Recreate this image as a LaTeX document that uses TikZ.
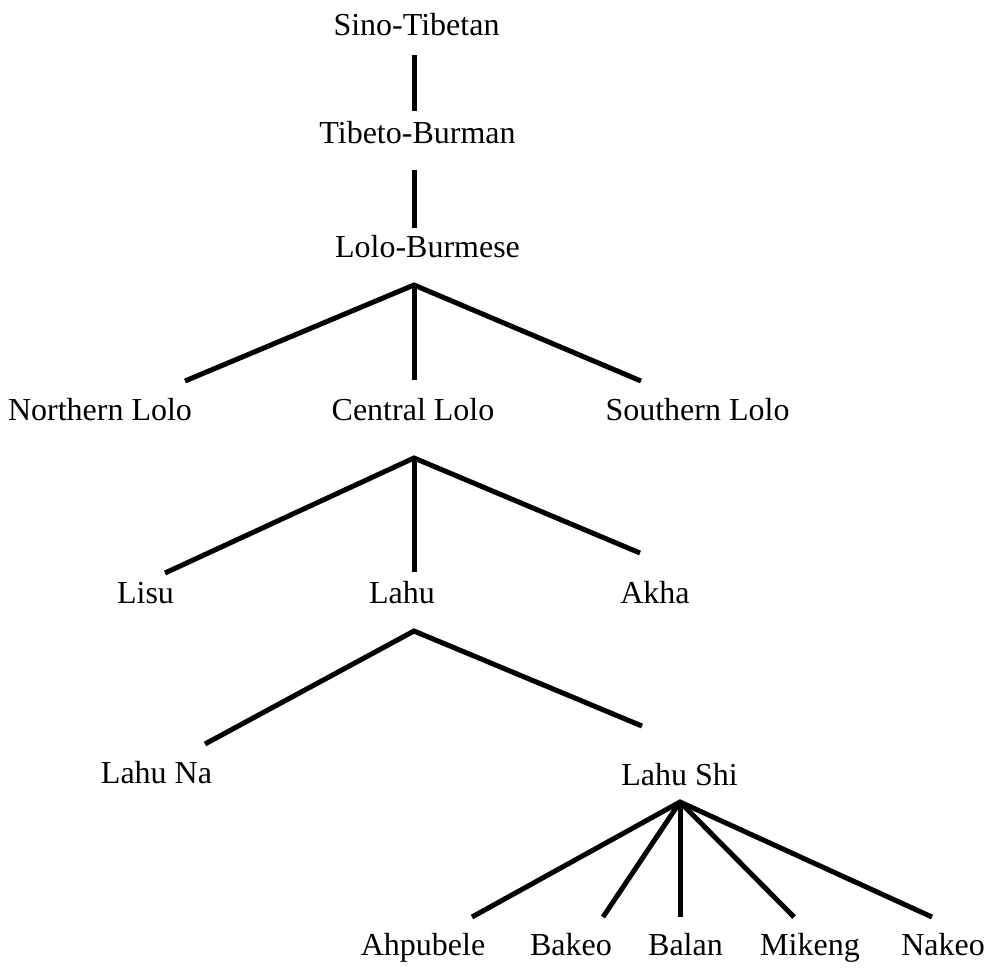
\documentclass[tikz,border=0pt]{standalone}
\usepackage{fontspec}
\setmainfont{Liberation Serif}
\begin{document}
\begin{tikzpicture}[x=1pt,y=-1pt,
  lbl/.style={anchor=base,inner sep=0pt,font=\fontsize{32}{38}\selectfont},
  branch/.style={line width=5pt}]
\useasboundingbox (0,0) rectangle (990,967);
% labels
\node[lbl] (st) at (416.5,35) {Sino-Tibetan};
\node[lbl] (tb) at (417.5,143) {Tibeto-Burman};
\node[lbl] (lb) at (427.5,257) {Lolo-Burmese};
\node[lbl] (nl) at (100,420) {Northern Lolo};
\node[lbl] (cl) at (413,420) {Central Lolo};
\node[lbl] (sl) at (697.5,420) {Southern Lolo};
\node[lbl] (li) at (145.5,603) {Lisu};
\node[lbl] (la) at (402,603) {Lahu};
\node[lbl] (ak) at (655,603) {Akha};
\node[lbl] (ln) at (156.5,783) {Lahu Na};
\node[lbl] (ls) at (679.5,785) {Lahu Shi};
\node[lbl] (ah) at (423,955) {Ahpubele};
\node[lbl] (bk) at (571,955) {Bakeo};
\node[lbl] (bl) at (685.5,955) {Balan};
\node[lbl] (mk) at (810,955) {Mikeng};
\node[lbl] (nk) at (943,955) {Nakeo};
% connector end points
\coordinate (st-s) at (414,55);
\coordinate (tb-n) at (414,111);
\coordinate (tb-s) at (414,170);
\coordinate (lb-n) at (414,228);
\coordinate (lb-s) at (414,285);
\coordinate (nl-n) at (185,381);
\coordinate (cl-n) at (414,380);
\coordinate (sl-n) at (641,381);
\coordinate (cl-s) at (414,458);
\coordinate (li-n) at (165,573);
\coordinate (la-n) at (414,572);
\coordinate (ak-n) at (640,553);
\coordinate (la-s) at (414,631);
\coordinate (ln-n) at (205,744);
\coordinate (ls-n) at (642,726);
\coordinate (ls-s) at (680,802);
\coordinate (ah-n) at (472,917);
\coordinate (bk-n) at (603,917);
\coordinate (bl-n) at (680,917);
\coordinate (mk-n) at (794,917);
\coordinate (nk-n) at (932,917);
% connectors
\draw[branch] (st-s) -- (tb-n);
\draw[branch] (tb-s) -- (lb-n);
\draw[branch,line join=miter] (nl-n) -- (lb-s) -- (sl-n);
\draw[branch] (lb-s) -- (cl-n);
\draw[branch,line join=miter] (li-n) -- (cl-s) -- (ak-n);
\draw[branch] (cl-s) -- (la-n);
\draw[branch,line join=miter] (ln-n) -- (la-s) -- (ls-n);
\draw[branch,line join=miter] (ah-n) -- (ls-s) -- (nk-n);
\draw[branch] (ls-s) -- (bk-n);
\draw[branch] (ls-s) -- (bl-n);
\draw[branch] (ls-s) -- (mk-n);
\end{tikzpicture}
\end{document}
